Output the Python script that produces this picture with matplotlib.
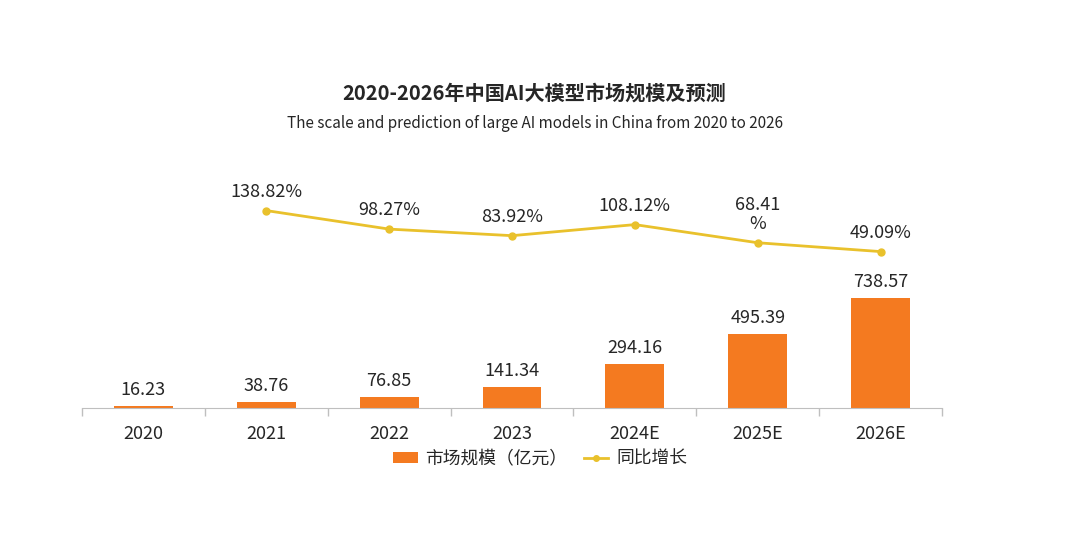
import matplotlib.pyplot as plt
from matplotlib.patches import Patch
from matplotlib.lines import Line2D

plt.rcParams['font.family'] = ['Noto Sans CJK SC', 'DejaVu Sans']

# data
years = ['2020', '2021', '2022', '2023', '2024E', '2025E', '2026E']
market_size = [16.23, 38.76, 76.85, 141.34, 294.16, 495.39, 738.57]
growth_years = ['2021', '2022', '2023', '2024E', '2025E', '2026E']
growth = [138.82, 98.27, 83.92, 108.12, 68.41, 49.09]
growth_labels = ['138.82%', '98.27%', '83.92%', '108.12%', '68.41\n%', '49.09%']

bar_color = '#F47A20'
line_color = '#E9C12C'
text_color = '#262626'

fig = plt.figure(figsize=(10.8, 5.48), dpi=100)
ax = fig.add_axes([82 / 1080, 1 - 408 / 548, 860 / 1080, 248 / 548])

x = list(range(len(years)))
ax.bar(x, market_size, width=0.48, color=bar_color, zorder=2)
for xi, v in zip(x, market_size):
    ax.annotate(f'{v:.2f}', (xi, v), xytext=(0, 5), textcoords='offset points',
                ha='center', va='bottom', fontsize=13, color=text_color)

ax.set_xlim(-0.5, len(years) - 0.5)
ax.set_ylim(0, 1665)
ax.set_xticks(x)
ax.set_xticklabels(years, fontsize=13, color=text_color)
ax.set_xticks([i - 0.5 for i in range(len(years) + 1)], minor=True)
ax.tick_params(axis='x', which='major', length=0, pad=12)
ax.tick_params(axis='x', which='minor', length=6, color='#BFBFBF', width=1)
ax.set_yticks([])
for s in ['top', 'right', 'left']:
    ax.spines[s].set_visible(False)
ax.spines['bottom'].set_color('#BFBFBF')

ax2 = ax.twinx()
gx = [years.index(y) for y in growth_years]
ax2.plot(gx, growth, color=line_color, linewidth=2, marker='o', markersize=5, zorder=3)
for xi, v, lab in zip(gx, growth, growth_labels):
    ax2.annotate(lab, (xi, v), xytext=(0, 7), textcoords='offset points',
                 ha='center', va='bottom', fontsize=13, color=text_color,
                 linespacing=1.05)
ax2.set_ylim(-293.2, 249.5)
ax2.set_yticks([])
for s in ['top', 'right', 'left', 'bottom']:
    ax2.spines[s].set_visible(False)

fig.text(0.495, 1 - 93 / 548, '2020-2026年中国AI大模型市场规模及预测', ha='center', va='center',
         fontsize=14.5, fontweight='bold', color=text_color)
fig.text(0.495, 1 - 123 / 548, 'The scale and prediction of large AI models in China from 2020 to 2026',
         ha='center', va='center', fontsize=11, color=text_color)

handles = [Patch(facecolor=bar_color, label='市场规模（亿元）'),
           Line2D([0], [0], color=line_color, linewidth=2, marker='o', markersize=4, label='同比增长')]
fig.legend(handles=handles, loc='center', bbox_to_anchor=(0.5, 1 - 459 / 548), ncol=2,
           frameon=False, fontsize=12.8, handlelength=1.4, handleheight=0.6, columnspacing=0.9,
           handletextpad=0.45, labelcolor=text_color)

fig.savefig('out.png', dpi=100)
